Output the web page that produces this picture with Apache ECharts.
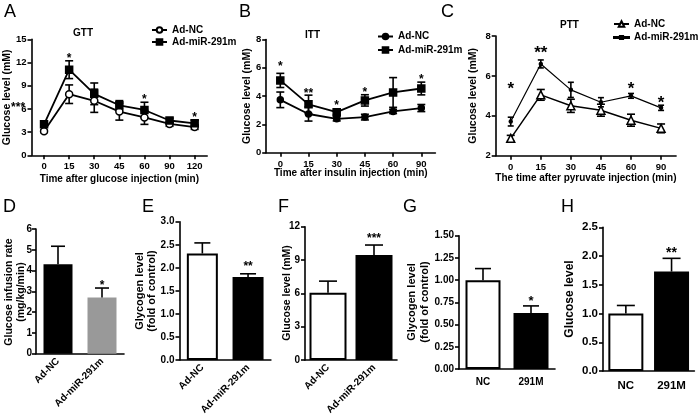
<!DOCTYPE html>
<html><head><meta charset="utf-8">
<script src="https://cdn.jsdelivr.net/npm/echarts@6/dist/echarts.min.js"></script>
<style>html,body{margin:0;padding:0;background:#fff}#c{width:700px;height:420px}</style>
</head><body><div id="c"></div>
<script>
// ---------- DATA ----------
// A: GTT
const gttTimes = ['0','15','30','45','60','90','120'];
const gttNC = [3.1, 7.9, 7.05, 5.65, 4.9, 4.05, 3.65];
const gttNCsd = [0.15, 1.2, 1.5, 1.1, 0.9, 0.3, 0.3];
const gttMiR = [4.0, 11.07, 7.95, 6.47, 5.86, 4.5, 4.14];
const gttMiRsd = [0.15, 1.15, 1.4, 0.6, 1.0, 0.3, 0.4];
const gttSig = ['***', '*', '', '', '*', '', '*'];
const gttSigY = [6.6, 12.9, 0, 0, 7.7, 0, 5.3];
// B: ITT
const ittTimes = ['0','15','30','45','60','90'];
const ittNC = [3.74, 2.74, 2.4, 2.52, 2.92, 3.16];
const ittNCsd = [0.55, 0.5, 0.15, 0.2, 0.15, 0.25];
const ittMiR = [5.11, 3.42, 2.87, 3.7, 4.26, 4.54];
const ittMiRsd = [0.5, 0.65, 0.2, 0.4, 1.05, 0.45];
const ittSig = ['*', '**', '*', '*', '', '*'];
const ittSigY = [6.3, 4.4, 3.6, 4.5, 0, 5.45];
// C: PTT
const pttTimes = ['0','15','30','45','60','90'];
const pttNC = [2.87, 5.05, 4.5, 4.28, 3.78, 3.37];
const pttNCsd = [0.15, 0.27, 0.33, 0.3, 0.3, 0.22];
const pttMiR = [3.71, 6.6, 5.3, 4.68, 5.0, 4.4];
const pttMiRsd = [0.22, 0.2, 0.38, 0.23, 0.12, 0.13];
const pttSig = ['*', '**', '', '', '*', '*'];
const pttSigY = [5.6, 7.4, 0, 0, 5.6, 4.9];
// D-H bar panels
const groupsAd = ['Ad-NC', 'Ad-miR-291m'];
const groupsShort = ['NC', '291M'];
const girVals = [4.3, 2.71];   const girSd = [0.87, 0.45];   const girSig = ['', '*'];   const girSigY = [0, 3.45];
const glyE = [2.31, 1.8];      const glyEsd = [0.23, 0.07];  const glyESig = ['', '**']; const glyESigY = [0, 2.1];
const gluF = [6.05, 9.45];     const gluFsd = [1.05, 0.9];   const gluFSig = ['', '***']; const gluFSigY = [0, 11.2];
const glyG = [1.0, 0.63];      const glyGsd = [0.13, 0.08];  const glyGSig = ['', '*'];  const glyGSigY = [0, 0.8];
const gluH = [1.0, 1.73];      const gluHsd = [0.14, 0.23];  const gluHSig = ['', '**']; const gluHSigY = [0, 2.12];

// ---------- CHART ----------
const FONT = 'Liberation Sans, Arial, sans-serif';
const chart = echarts.init(document.getElementById('c'), null, {renderer: 'canvas'});

const grids = [
  {left: 31.5, top: 39.3, width: 175.7, height: 116},    // A
  {left: 266.2, top: 39.5, width: 169.2, height: 113.3}, // B
  {left: 495.7, top: 36, width: 180.4, height: 119.7},   // C
  {left: 36, top: 229, width: 88, height: 124.7},        // D
  {left: 179.5, top: 221.7, width: 91.4, height: 138.3}, // E
  {left: 305, top: 226.7, width: 92, height: 133.3},     // F
  {left: 459, top: 235.7, width: 96, height: 133.3},     // G
  {left: 603, top: 227.3, width: 91.4, height: 143.7}    // H
];

const axLine = {show: true, lineStyle: {color: '#000', width: 1.6}};
const axTick = {show: true, length: 4, inside: false, lineStyle: {color: '#000', width: 1.6}};
function lbl(size, extra) {
  return Object.assign({color: '#000', fontFamily: FONT, fontWeight: 'bold', fontSize: size}, extra || {});
}

const xAxes = [], yAxes = [], series = [];

function addX(i, cats, opts) {
  xAxes.push(Object.assign({
    gridIndex: i, type: 'category', data: cats, boundaryGap: true,
    axisLine: axLine, axisTick: Object.assign({}, axTick, {alignWithLabel: true}),
    splitLine: {show: false},
    axisLabel: lbl(9.5, {margin: 6.5, interval: 0}),
    nameLocation: 'middle', nameMoveOverlap: false, nameTextStyle: lbl(10, {verticalAlign: 'top'})
  }, opts || {}));
}
function addY(i, min, max, interval, opts) {
  yAxes.push(Object.assign({
    gridIndex: i, type: 'value', min: min, max: max, interval: interval,
    axisLine: axLine, axisTick: axTick, splitLine: {show: false},
    axisLabel: lbl(9.5, {margin: 5}),
    nameLocation: 'middle', nameRotate: 90, nameMoveOverlap: false,
    nameTextStyle: lbl(10.5, {lineHeight: 12})
  }, opts || {}));
}

function errSeries(i, vals, sds, upOnly, cap, z) {
  return {
    type: 'custom', xAxisIndex: i, yAxisIndex: i, z: z || 3, silent: true,
    data: vals.map((v, k) => [k, v, sds[k]]),
    renderItem: function (params, api) {
      const k = api.value(0), v = api.value(1), e = api.value(2);
      const top = api.coord([k, v + e]);
      const bot = api.coord([k, upOnly ? v : v - e]);
      const st = {stroke: '#000', lineWidth: 1.6};
      const ch = [
        {type: 'line', shape: {x1: top[0], y1: top[1], x2: bot[0], y2: bot[1]}, style: st},
        {type: 'line', shape: {x1: top[0] - cap / 2, y1: top[1], x2: top[0] + cap / 2, y2: top[1]}, style: st}
      ];
      if (!upOnly) ch.push({type: 'line', shape: {x1: bot[0] - cap / 2, y1: bot[1], x2: bot[0] + cap / 2, y2: bot[1]}, style: st});
      return {type: 'group', children: ch};
    }
  };
}
function sigSeries(i, sig, sigY, size, dxFirst) {
  return {
    type: 'custom', xAxisIndex: i, yAxisIndex: i, z: 5, silent: true,
    data: sig.map((s, k) => [k, sigY[k]]).filter(d => sig[d[0]] !== ''),
    renderItem: function (params, api) {
      const k = api.value(0);
      const p = api.coord([k, api.value(1)]);
      const dx = (k === 0 && dxFirst) ? dxFirst : 0;
      return {type: 'text', x: p[0] + dx, y: p[1] + size * 0.3,
        style: {text: sig[k], fill: '#000', font: 'bold ' + size + 'px ' + FONT, align: 'center', verticalAlign: 'middle'}};
    }
  };
}
function lineSeries(i, name, vals, symbol, size, lw, fill) {
  return {
    type: 'line', name: name, xAxisIndex: i, yAxisIndex: i, data: vals, z: 4,
    symbol: symbol, symbolSize: size, showAllSymbol: true,
    lineStyle: {color: '#000', width: lw},
    itemStyle: {color: fill, borderColor: '#000', borderWidth: 1.5},
    emphasis: {disabled: true}, animation: false
  };
}

// ---- A GTT ----
addX(0, gttTimes, {name: 'Time after glucose injection (min)', nameGap: 18.5});
addY(0, 0, 15, 3, {name: 'Glucose level (mM)', nameGap: 18});
series.push(errSeries(0, gttNC, gttNCsd, false, 8));
series.push(errSeries(0, gttMiR, gttMiRsd, false, 8));
series.push(lineSeries(0, 'A|Ad-NC', gttNC, 'circle', 7, 1.8, '#fff'));
series.push(lineSeries(0, 'A|Ad-miR-291m', gttMiR, 'rect', 7, 1.8, '#000'));
series.push(sigSeries(0, gttSig, gttSigY, 12, -26));

// ---- B ITT ----
addX(1, ittTimes, {name: 'Time after insulin injection (min)', nameGap: 15.5});
addY(1, 0, 8, 2, {name: 'Glucose level (mM)', nameGap: 13});
series.push(errSeries(1, ittNC, ittNCsd, false, 8));
series.push(errSeries(1, ittMiR, ittMiRsd, false, 8));
series.push(lineSeries(1, 'B|Ad-NC', ittNC, 'circle', 6, 1.8, '#000'));
series.push(lineSeries(1, 'B|Ad-miR-291m', ittMiR, 'rect', 7, 1.8, '#000'));
series.push(sigSeries(1, ittSig, ittSigY, 12));

// ---- C PTT ----
addX(2, pttTimes, {name: 'The time after pyruvate injection (min)', nameGap: 17.5});
addY(2, 2, 8, 2, {name: 'Glucose level (mM)', nameGap: 16.5});
series.push(errSeries(2, pttNC, pttNCsd, false, 8));
series.push(errSeries(2, pttMiR, pttMiRsd, false, 6));
series.push(lineSeries(2, 'C|Ad-NC', pttNC, 'triangle', 8, 1.5, '#fff'));
series.push(lineSeries(2, 'C|Ad-miR-291m', pttMiR, 'circle', 3, 1.2, '#000'));
series.push(sigSeries(2, pttSig, pttSigY, 17));

// ---- bar panels ----
function barPanel(i, cats, vals, sds, colors, min, max, interval, fmt, barW, cap, sig, sigY, sigSize, xopts, fs, lm) {
  addX(i, cats, Object.assign({axisTick: {show: false}, axisLabel: lbl(fs, {margin: 6, interval: 0})}, xopts || {}));
  addY(i, min, max, interval, {axisLabel: lbl(fs, {margin: lm, formatter: v => v.toFixed(fmt)})});
  series.push({
    type: 'bar', xAxisIndex: i, yAxisIndex: i, barWidth: barW, z: 2, animation: false,
    data: vals.map((v, k) => ({value: v, itemStyle: {color: colors[k], borderColor: colors[k] === '#fff' ? '#000' : colors[k], borderWidth: colors[k] === '#fff' ? 2 : 0}}))
  });
  series.push(errSeries(i, vals, sds, true, cap, 3));
  series.push(sigSeries(i, sig, sigY, sigSize));
}
const rot = {axisLabel: lbl(10, {margin: 6, interval: 0, rotate: 45})};
barPanel(3, groupsAd, girVals, girSd, ['#000', '#999'], 0, 6, 1, 0, 29, 14, girSig, girSigY, 12, rot, 10, 4);
barPanel(4, groupsAd, glyE, glyEsd, ['#fff', '#000'], 0, 3, 0.5, 1, 31, 16, glyESig, glyESigY, 12, rot, 10, 5);
barPanel(5, groupsAd, gluF, gluFsd, ['#fff', '#000'], 0, 12, 3, 0, 37, 18, gluFSig, gluFSigY, 12, rot, 10, 5);
barPanel(6, groupsShort, glyG, glyGsd, ['#fff', '#000'], 0, 1.5, 0.25, 2, 35, 16, glyGSig, glyGSigY, 13, {axisLabel: lbl(10, {margin: 8, interval: 0})}, 10, 5);
barPanel(7, groupsShort, gluH, gluHsd, ['#fff', '#000'], 0, 2.5, 0.5, 1, 35, 18, gluHSig, gluHSigY, 14, {axisLabel: lbl(11.5, {margin: 9, interval: 0})}, 11.5, 5);

// ---- y-axis titles of bar panels (rotated text) ----
function vtext(text, x, y, size) {
  return {type: 'text', x: x, y: y, rotation: Math.PI / 2, silent: true,
    style: {text: text, fill: '#000', font: 'bold ' + size + 'px ' + FONT, align: 'center', verticalAlign: 'middle'}};
}
const graphics = [
  vtext('Glucose infusion rate', 9, 292, 10.5), vtext('(mg/kg/min)', 21, 292, 10.5),
  vtext('Glycogen level', 139.5, 291, 11), vtext('(fold of control)', 152, 291, 11),
  vtext('Glucose level (mM)', 287, 293, 10.5),
  vtext('Glycogen level', 411.7, 302, 11), vtext('(fold of control)', 425, 302, 11),
  vtext('Glucose level', 570, 299, 12)
];

// ---- legends ----
function legend(left, top, names, gap) {
  return {left: left, top: top, orient: 'vertical', data: names, itemWidth: 15, itemHeight: 7, itemGap: gap,
    padding: 0, selectedMode: false, formatter: n => n.split('|')[1],
    textStyle: lbl(10)};
}
const legends = [
  legend(151, 25, ['A|Ad-NC', 'A|Ad-miR-291m'], 2),
  legend(377, 31.5, ['B|Ad-NC', 'B|Ad-miR-291m'], 3.5),
  legend(613, 19, ['C|Ad-NC', {name: 'C|Ad-miR-291m', icon: 'path://M0,3.4H16V4.6H0Z M6.3,2.3H9.7V5.7H6.3Z'}], 3.5)
];

// ---- titles / panel letters ----
function t(text, left, top, size, weight) {
  return {text: text, left: left, top: top, padding: 0,
    textStyle: {fontFamily: FONT, fontSize: size, fontWeight: weight, color: '#000'}};
}
const titles = [
  t('A', 4, 3, 18, 'normal'), t('B', 239, 3, 18, 'normal'), t('C', 441, 3, 18, 'normal'),
  t('D', 3, 198, 18, 'normal'), t('E', 142, 198, 18, 'normal'), t('F', 278, 198, 18, 'normal'),
  t('G', 403, 198, 18, 'normal'), t('H', 561, 198, 18, 'normal'),
  t('GTT', 73, 28, 10, 'bold'), t('ITT', 305, 30, 10, 'bold'), t('PTT', 560, 20, 10, 'bold')
];

chart.setOption({
  animation: false,
  backgroundColor: '#fff',
  title: titles,
  legend: legends,
  grid: grids,
  xAxis: xAxes,
  yAxis: yAxes,
  graphic: graphics,
  series: series
});
</script></body></html>
